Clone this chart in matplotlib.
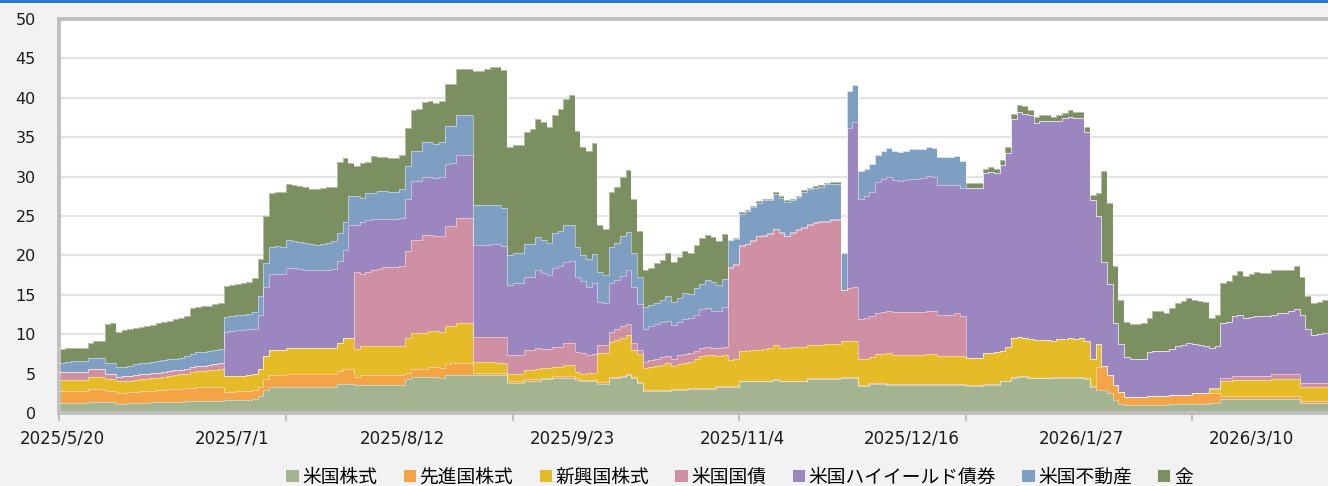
import numpy as np
import matplotlib
matplotlib.use("Agg")
import matplotlib.pyplot as plt
from matplotlib.lines import Line2D
from matplotlib.ticker import FixedLocator, NullFormatter

plt.rcParams["font.family"] = ["DejaVu Sans", "Noto Sans CJK JP"]

# x-axis labels (every 30 business days)
tick_labels = ["2025/5/20", "2025/7/1", "2025/8/12", "2025/9/23",
               "2025/11/4", "2025/12/16", "2026/1/27", "2026/3/10"]

us_stock = [
    1.3, 1.3, 1.3, 1.3, 1.3, 1.4, 1.4, 1.4, 1.4, 1.4,
    1.2, 1.2, 1.25, 1.25, 1.3, 1.3, 1.35, 1.35, 1.4, 1.4,
    1.45, 1.45, 1.5, 1.5, 1.5, 1.5, 1.55, 1.55, 1.55, 1.7,
    1.7, 1.7, 1.7, 1.7, 1.8, 2.1, 2.9, 3.3, 3.3, 3.3,
    3.3, 3.3, 3.3, 3.3, 3.3, 3.3, 3.3, 3.3, 3.3, 3.7,
    3.7, 3.7, 3.6, 3.6, 3.6, 3.6, 3.6, 3.6, 3.6, 3.6,
    3.6, 4.3, 4.6, 4.6, 4.6, 4.6, 4.6, 4.4, 4.8, 4.8,
    4.8, 4.8, 4.8, 4.8, 4.8, 4.8, 4.8, 4.8, 4.8, 3.8,
    3.8, 3.8, 4.1, 4.1, 4.1, 4.3, 4.3, 4.5, 4.5, 4.5,
    4.5, 4.2, 4.0, 4.0, 4.0, 3.7, 3.7, 4.4, 4.4, 4.6,
    4.8, 4.4, 3.8, 2.8, 2.8, 2.8, 2.8, 2.8, 2.9, 2.9,
    2.9, 3.1, 3.1, 3.1, 3.1, 3.1, 3.35, 3.35, 3.3, 3.3,
    4.0, 4.0, 4.0, 4.0, 4.0, 4.0, 4.2, 4.0, 4.0, 4.0,
    4.0, 4.0, 4.3, 4.3, 4.3, 4.3, 4.3, 4.3, 4.5, 4.5,
    4.5, 3.4, 3.4, 3.7, 3.7, 3.7, 3.6, 3.6, 3.6, 3.6,
    3.6, 3.6, 3.6, 3.6, 3.6, 3.6, 3.6, 3.6, 3.6, 3.6,
    3.4, 3.4, 3.4, 3.6, 3.6, 3.6, 4.0, 4.0, 4.5, 4.6,
    4.6, 4.4, 4.4, 4.4, 4.4, 4.5, 4.5, 4.5, 4.5, 4.5,
    4.5, 4.3, 3.3, 2.9, 2.9, 2.6, 1.65, 1.2, 1.0, 1.0,
    1.0, 1.0, 1.05, 1.05, 1.05, 1.05, 1.1, 1.1, 1.1, 1.1,
    1.1, 1.1, 1.1, 1.3, 1.3, 1.8, 1.8, 1.8, 1.8, 1.8,
    1.8, 1.8, 1.8, 1.8, 1.8, 1.8, 1.8, 1.8, 1.8, 1.3,
    1.3, 1.3, 1.3, 1.3,
]

dev_stock = [
    1.5, 1.5, 1.5, 1.5, 1.5, 1.6, 1.6, 1.6, 1.45, 1.45,
    1.4, 1.4, 1.4, 1.45, 1.45, 1.5, 1.5, 1.55, 1.55, 1.6,
    1.6, 1.65, 1.65, 1.7, 1.75, 1.75, 1.75, 1.75, 1.8, 1.0,
    1.0, 1.05, 1.05, 1.1, 1.1, 1.2, 1.4, 1.5, 1.5, 1.5,
    1.7, 1.7, 1.7, 1.7, 1.7, 1.7, 1.7, 1.7, 1.7, 1.6,
    1.9, 1.9, 1.0, 1.2, 1.2, 1.2, 1.2, 1.2, 1.2, 1.2,
    1.2, 0.8, 1.0, 1.0, 1.0, 1.2, 1.2, 1.3, 1.4, 1.5,
    1.5, 1.5, 1.5, 0.3, 0.3, 0.3, 0.3, 0.3, 0.3, 0.3,
    0.3, 0.3, 0.2, 0.2, 0.2, 0.2, 0.2, 0.2, 0.2, 0.2,
    0.2, 0.2, 0.2, 0.2, 0.2, 0.2, 0.2, 0.15, 0.15, 0.15,
    0.15, 0.15, 0.1, 0.1, 0.1, 0.1, 0.1, 0.1, 0.1, 0.1,
    0.1, 0.1, 0.1, 0.1, 0.1, 0.1, 0.1, 0.1, 0.1, 0.1,
    0.1, 0.1, 0.1, 0.1, 0.1, 0.1, 0.1, 0.1, 0.1, 0.1,
    0.1, 0.1, 0.1, 0.1, 0.1, 0.1, 0.1, 0.1, 0.1, 0.1,
    0.1, 0.1, 0.1, 0.1, 0.1, 0.1, 0.1, 0.1, 0.1, 0.1,
    0.1, 0.1, 0.1, 0.1, 0.1, 0.1, 0.1, 0.1, 0.1, 0.1,
    0.1, 0.1, 0.1, 0.1, 0.1, 0.1, 0.1, 0.1, 0.1, 0.1,
    0.1, 0.1, 0.1, 0.1, 0.1, 0.1, 0.1, 0.1, 0.1, 0.1,
    0.1, 0.1, 0.1, 3.0, 3.1, 2.2, 1.85, 1.5, 1.07, 1.0,
    1.0, 1.0, 1.1, 1.1, 1.1, 1.1, 1.2, 1.2, 1.2, 1.2,
    1.4, 1.4, 1.4, 1.3, 1.3, 0.3, 0.3, 0.3, 0.3, 0.3,
    0.3, 0.3, 0.3, 0.3, 0.3, 0.3, 0.3, 0.3, 0.3, 0.25,
    0.25, 0.25, 0.25, 0.25,
]

em_stock = [
    1.4, 1.4, 1.4, 1.4, 1.4, 1.6, 1.6, 1.6, 1.45, 1.45,
    1.4, 1.45, 1.45, 1.5, 1.55, 1.55, 1.6, 1.6, 1.65, 1.7,
    1.75, 1.8, 1.85, 2.0, 2.05, 2.1, 2.1, 2.2, 2.25, 2.0,
    2.0, 2.0, 2.0, 2.0, 2.0, 2.3, 2.9, 3.2, 3.2, 3.2,
    3.3, 3.3, 3.3, 3.3, 3.2, 3.2, 3.3, 3.3, 3.3, 3.6,
    3.9, 3.9, 3.5, 3.7, 3.7, 3.7, 3.7, 3.7, 3.7, 3.7,
    3.7, 4.4, 4.6, 4.6, 4.6, 4.6, 4.6, 4.6, 4.8, 4.7,
    5.1, 5.1, 5.1, 1.4, 1.4, 1.4, 1.4, 1.3, 1.3, 0.9,
    0.9, 0.9, 1.1, 1.1, 1.3, 1.2, 1.2, 1.2, 1.2, 1.4,
    1.4, 0.85, 0.8, 0.9, 0.9, 3.7, 3.7, 4.5, 4.75, 4.75,
    4.95, 3.45, 3.55, 2.8, 2.9, 3.1, 3.2, 3.4, 3.0, 3.2,
    3.4, 3.3, 3.6, 4.0, 4.2, 4.1, 3.75, 3.85, 3.3, 3.45,
    3.8, 3.8, 3.9, 3.9, 4.0, 4.1, 4.3, 4.2, 4.2, 4.3,
    4.3, 4.3, 4.2, 4.2, 4.2, 4.4, 4.4, 4.4, 4.6, 4.6,
    4.6, 3.3, 3.3, 3.35, 3.7, 3.7, 3.9, 3.65, 3.65, 3.65,
    3.65, 3.65, 3.65, 3.8, 3.8, 3.5, 3.5, 3.5, 3.5, 3.5,
    3.5, 3.5, 3.5, 3.9, 3.9, 4.0, 3.8, 4.3, 4.9, 4.9,
    4.8, 4.9, 4.8, 4.8, 4.8, 4.55, 4.8, 4.8, 4.9, 4.8,
    4.9, 4.7, 3.45, 2.8, 0, 0, 0, 0, 0, 0,
    0, 0, 0, 0, 0, 0, 0, 0, 0, 0,
    0, 0, 0, 0.4, 0.4, 1.9, 1.9, 2.1, 2.1, 2.1,
    2.1, 2.1, 2.1, 2.1, 2.2, 2.2, 2.2, 2.2, 2.2, 1.75,
    1.75, 1.75, 1.75, 1.75,
]

us_bond = [
    1.0, 1.0, 1.0, 1.0, 1.0, 1.0, 1.0, 1.0, 0.6, 0.6,
    0.6, 0.6, 0.6, 0.6, 0.6, 0.6, 0.6, 0.6, 0.6, 0.6,
    0.6, 0.6, 0.6, 0.65, 0.65, 0.65, 0.7, 0.7, 0.7, 0,
    0, 0, 0, 0, 0, 0, 0, 0, 0, 0,
    0, 0, 0, 0, 0, 0, 0, 0, 0, 0,
    0, 0, 9.8, 9.1, 9.4, 9.6, 9.8, 10.0, 10.0, 10.0,
    10.1, 11.1, 11.8, 11.8, 12.4, 12.2, 12.0, 12.2, 12.7, 12.7,
    13.3, 13.3, 13.3, 3.2, 3.2, 3.2, 3.2, 3.2, 3.2, 2.4,
    2.4, 2.4, 2.6, 2.6, 2.6, 2.4, 2.4, 2.5, 2.5, 2.75,
    2.75, 2.55, 2.6, 2.3, 2.4, 1.0, 1.0, 1.25, 1.4, 1.5,
    1.4, 0.9, 0.55, 0.8, 0.9, 0.9, 1.05, 0.9, 0.9, 1.2,
    1.1, 1.1, 1.1, 1.1, 1.0, 1.0, 1.0, 1.1, 11.7, 11.95,
    13.3, 13.5, 13.8, 14.4, 14.4, 14.5, 14.7, 14.6, 14.1, 14.5,
    14.8, 15.1, 15.3, 15.5, 15.7, 15.5, 15.7, 15.7, 6.4, 6.6,
    6.8, 5.1, 5.2, 5.15, 5.2, 5.3, 5.4, 5.45, 5.45, 5.45,
    5.45, 5.45, 5.45, 5.5, 5.4, 5.3, 5.3, 5.3, 5.45, 5.15,
    0, 0, 0, 0, 0, 0, 0, 0, 0, 0,
    0, 0, 0, 0, 0, 0, 0, 0, 0, 0,
    0, 0, 0, 0, 0, 0, 0, 0, 0, 0,
    0, 0, 0, 0, 0, 0, 0, 0, 0, 0,
    0, 0, 0, 0.2, 0.2, 0.5, 0.5, 0.5, 0.5, 0.5,
    0.5, 0.5, 0.5, 0.5, 0.65, 0.65, 0.65, 0.65, 0.65, 0.55,
    0.55, 0.55, 0.55, 0.55,
]

us_high_yield = [
    0, 0, 0, 0, 0, 0, 0, 0, 0, 0,
    0, 0, 0, 0, 0, 0, 0, 0, 0, 0,
    0, 0, 0, 0, 0, 0, 0, 0, 0, 5.6,
    5.7, 5.75, 5.75, 5.8, 5.8, 6.8, 8.8, 9.7, 9.7, 9.7,
    10.1, 10.1, 10.0, 9.9, 9.9, 9.9, 9.9, 9.9, 10.0, 10.4,
    11.2, 14.4, 6.0, 6.6, 6.6, 6.5, 6.3, 6.1, 6.1, 6.1,
    6.2, 6.6, 7.4, 7.4, 7.3, 7.3, 7.4, 7.5, 7.9, 8.0,
    8.1, 8.1, 8.1, 11.6, 11.6, 11.6, 11.8, 11.9, 11.6, 8.85,
    9.1, 9.1, 9.3, 9.3, 9.9, 9.7, 9.4, 10.0, 10.3, 10.35,
    10.45, 9.5, 9.1, 8.55, 9.0, 5.5, 5.3, 6.2, 6.2, 6.4,
    6.9, 7.1, 5.8, 4.1, 4.3, 4.35, 4.45, 4.5, 4.3, 4.2,
    4.4, 4.5, 4.6, 4.9, 4.9, 4.7, 4.7, 5.0, 0.1, 0.1,
    0.1, 0.1, 0.1, 0.1, 0.1, 0.1, 0.1, 0.1, 0.1, 0.1,
    0.1, 0.1, 0.1, 0.1, 0.1, 0.1, 0.1, 0.1, 0, 20.4,
    20.9, 15.3, 15.5, 15.7, 16.6, 16.9, 16.9, 16.8, 16.6, 16.8,
    16.85, 16.85, 17.0, 17.1, 17.0, 16.4, 16.4, 16.4, 16.25, 16.15,
    21.5, 21.5, 21.5, 22.9, 23.0, 22.8, 23.6, 24.6, 27.8, 28.6,
    28.5, 28.4, 27.5, 27.7, 27.7, 27.85, 27.7, 28.0, 28.1, 28.0,
    27.9, 26.5, 20.15, 16.3, 13.2, 11.6, 7.9, 6.1, 5.0, 4.85,
    4.85, 4.9, 5.65, 5.75, 5.75, 5.75, 5.8, 6.2, 6.3, 6.55,
    6.2, 6.1, 6.0, 5.1, 5.3, 6.9, 7.0, 7.6, 7.7, 7.3,
    7.5, 7.6, 7.6, 7.6, 7.55, 7.7, 7.75, 7.95, 8.25, 8.55,
    6.85, 6.05, 6.15, 6.25,
]

us_reit = [
    1.2, 1.3, 1.4, 1.4, 1.4, 1.4, 1.4, 1.4, 1.5, 1.5,
    1.2, 1.25, 1.3, 1.4, 1.4, 1.45, 1.45, 1.5, 1.5, 1.5,
    1.5, 1.5, 1.6, 1.65, 1.75, 1.8, 1.8, 1.8, 1.8, 1.9,
    1.9, 1.9, 2.0, 2.0, 2.1, 2.4, 3.0, 3.4, 3.5, 3.4,
    3.5, 3.4, 3.4, 3.4, 3.3, 3.2, 3.3, 3.4, 3.5, 3.6,
    3.6, 3.6, 3.6, 3.1, 3.4, 3.3, 3.6, 3.6, 3.5, 3.5,
    3.6, 4.2, 3.9, 3.9, 4.5, 4.5, 4.4, 4.4, 4.8, 4.7,
    5.0, 5.0, 5.0, 5.1, 5.1, 5.1, 4.9, 4.9, 4.8, 3.8,
    3.8, 3.8, 4.1, 4.1, 4.2, 4.1, 4.1, 4.4, 4.4, 4.6,
    4.6, 3.8, 3.35, 3.55, 3.7, 3.8, 3.6, 4.6, 4.7, 5.0,
    4.8, 4.3, 3.5, 2.9, 2.7, 2.75, 2.8, 3.15, 2.9, 2.95,
    3.3, 3.0, 3.3, 3.2, 3.6, 3.6, 3.4, 3.6, 3.4, 3.2,
    4.0, 4.1, 4.2, 4.2, 4.4, 4.2, 4.4, 4.3, 4.3, 4.0,
    4.1, 4.5, 4.4, 4.4, 4.3, 4.6, 4.5, 4.5, 4.7, 4.7,
    4.7, 3.55, 3.5, 3.6, 3.4, 3.5, 3.7, 3.6, 3.7, 3.7,
    3.8, 3.8, 3.65, 3.6, 3.7, 3.6, 3.6, 3.6, 3.7, 3.5,
    0, 0, 0, 0, 0, 0, 0, 0, 0, 0,
    0, 0, 0, 0, 0, 0, 0, 0, 0, 0,
    0, 0, 0, 0, 0, 0, 0, 0, 0, 0,
    0, 0, 0, 0, 0, 0, 0, 0, 0, 0,
    0, 0, 0, 0, 0, 0, 0, 0, 0, 0,
    0, 0, 0, 0, 0, 0, 0, 0, 0, 0,
    0, 0, 0, 0,
]

gold = [
    1.7, 1.8, 1.7, 1.7, 1.7, 1.9, 2.1, 2.1, 4.9, 5.0,
    4.5, 4.6, 4.6, 4.6, 4.6, 4.6, 4.7, 4.8, 4.8, 4.9,
    5.0, 5.1, 5.1, 5.8, 5.8, 5.8, 5.7, 5.8, 5.9, 3.9,
    4.0, 4.0, 4.0, 4.0, 4.3, 4.8, 6.0, 6.8, 6.8, 7.0,
    7.2, 7.1, 7.1, 7.1, 7.0, 7.1, 7.1, 7.1, 6.9, 8.9,
    8.1, 4.2, 3.9, 4.4, 3.9, 4.7, 4.3, 4.3, 4.3, 4.2,
    4.3, 4.8, 5.1, 5.3, 5.1, 5.2, 5.2, 5.2, 5.3, 5.4,
    5.8, 5.8, 5.8, 17.0, 17.0, 17.3, 17.5, 17.5, 17.5, 13.65,
    13.7, 13.7, 14.3, 14.6, 15.0, 15.0, 14.7, 15.0, 15.5, 16.0,
    16.4, 14.7, 13.75, 13.7, 14.1, 5.9, 5.9, 6.9, 7.1, 7.5,
    7.9, 6.9, 5.8, 4.6, 4.7, 5.0, 5.0, 5.45, 5.1, 5.25,
    5.3, 5.2, 5.5, 5.8, 5.7, 5.7, 5.5, 5.7, 0.1, 0.1,
    0.2, 0.2, 0.2, 0.2, 0.2, 0.2, 0.2, 0.2, 0.2, 0.2,
    0.2, 0.2, 0.2, 0.2, 0.2, 0.2, 0.2, 0.2, 0, 0,
    0, 0, 0, 0, 0, 0, 0, 0, 0, 0,
    0, 0, 0, 0, 0, 0, 0, 0, 0, 0,
    0.7, 0.7, 0.7, 0.5, 0.6, 0.5, 0.6, 0.7, 0.7, 0.9,
    1.0, 0.7, 0.8, 0.8, 0.8, 0.6, 0.7, 0.7, 0.85, 0.8,
    0.8, 0.7, 0.7, 2.9, 11.5, 10.2, 7.2, 5.5, 4.5, 4.4,
    4.4, 4.5, 4.3, 5.05, 5.05, 4.8, 5.2, 5.4, 5.6, 5.75,
    5.6, 5.6, 5.6, 3.7, 3.9, 5.1, 5.2, 5.2, 5.6, 5.4,
    5.4, 5.6, 5.5, 5.5, 5.65, 5.55, 5.5, 5.3, 5.4, 4.9,
    4.1, 4.0, 4.1, 4.2,
]

series = [us_stock, dev_stock, em_stock, us_bond, us_high_yield, us_reit, gold]
names = ["米国株式", "先進国株式", "新興国株式", "米国国債",
         "米国ハイイールド債券", "米国不動産", "金"]
colors = ["#a4b490", "#f4a444", "#e5bb27", "#cf90a4",
          "#9c86c0", "#7f9fc2", "#7b8f60"]

n = len(us_stock)
x = np.arange(n + 1)

fig = plt.figure(figsize=(13.28, 4.86), dpi=100, facecolor="#f2f2f2")
ax = fig.add_axes([0.0448, 0.1502, 0.9552, 0.8107])
ax.set_facecolor("white")

base = np.zeros(n)
for vals, name, col in zip(series, names, colors):
    top = base + np.array(vals, dtype=float)
    lo = np.append(base, base[-1])
    hi = np.append(top, top[-1])
    ax.fill_between(x, lo, hi, step="post", color=col, lw=0, label=name, zorder=2)
    ax.step(x, hi, where="post", color="white", alpha=0.45, lw=0.7, zorder=3)
    base = top

ax.set_xlim(0, n)
ax.set_ylim(0, 50)
ax.set_yticks(np.arange(0, 51, 5))
ax.yaxis.grid(True, color="#e4e4e4", lw=1.6, zorder=0)
ax.set_axisbelow(True)
ax.tick_params(axis="y", length=0, pad=17, labelsize=11.5, labelcolor="#1a1a1a")

# labels every 30 categories, tick marks every 40
ax.xaxis.set_major_locator(FixedLocator([i * 30 + 0.5 for i in range(len(tick_labels))]))
ax.set_xticklabels(tick_labels)
ax.xaxis.set_minor_locator(FixedLocator(np.arange(0, n, 40)))
ax.xaxis.set_minor_formatter(NullFormatter())
ax.tick_params(axis="x", which="major", length=0, pad=12, labelsize=12, labelcolor="#1a1a1a")
ax.tick_params(axis="x", which="minor", length=6, width=1.5, color="#bfbfbf", direction="out")

for side in ["left", "bottom", "top"]:
    ax.spines[side].set_color("#bfbfbf")
    ax.spines[side].set_linewidth(2.8)
ax.spines["right"].set_visible(False)

fig.add_artist(Line2D([0, 1], [0.998, 0.998], color="#1a6fd6", lw=2,
                      transform=fig.transFigure))

ax.legend(loc="center", bbox_to_anchor=(0.557, 0.018), bbox_transform=fig.transFigure,
          ncol=7, frameon=False, handlelength=0.65, handleheight=0.65,
          handletextpad=0.2, columnspacing=1.4,
          prop={"family": ["Noto Sans CJK JP", "DejaVu Sans"], "size": 13.5})

fig.savefig("out.png", dpi=100, facecolor=fig.get_facecolor())
